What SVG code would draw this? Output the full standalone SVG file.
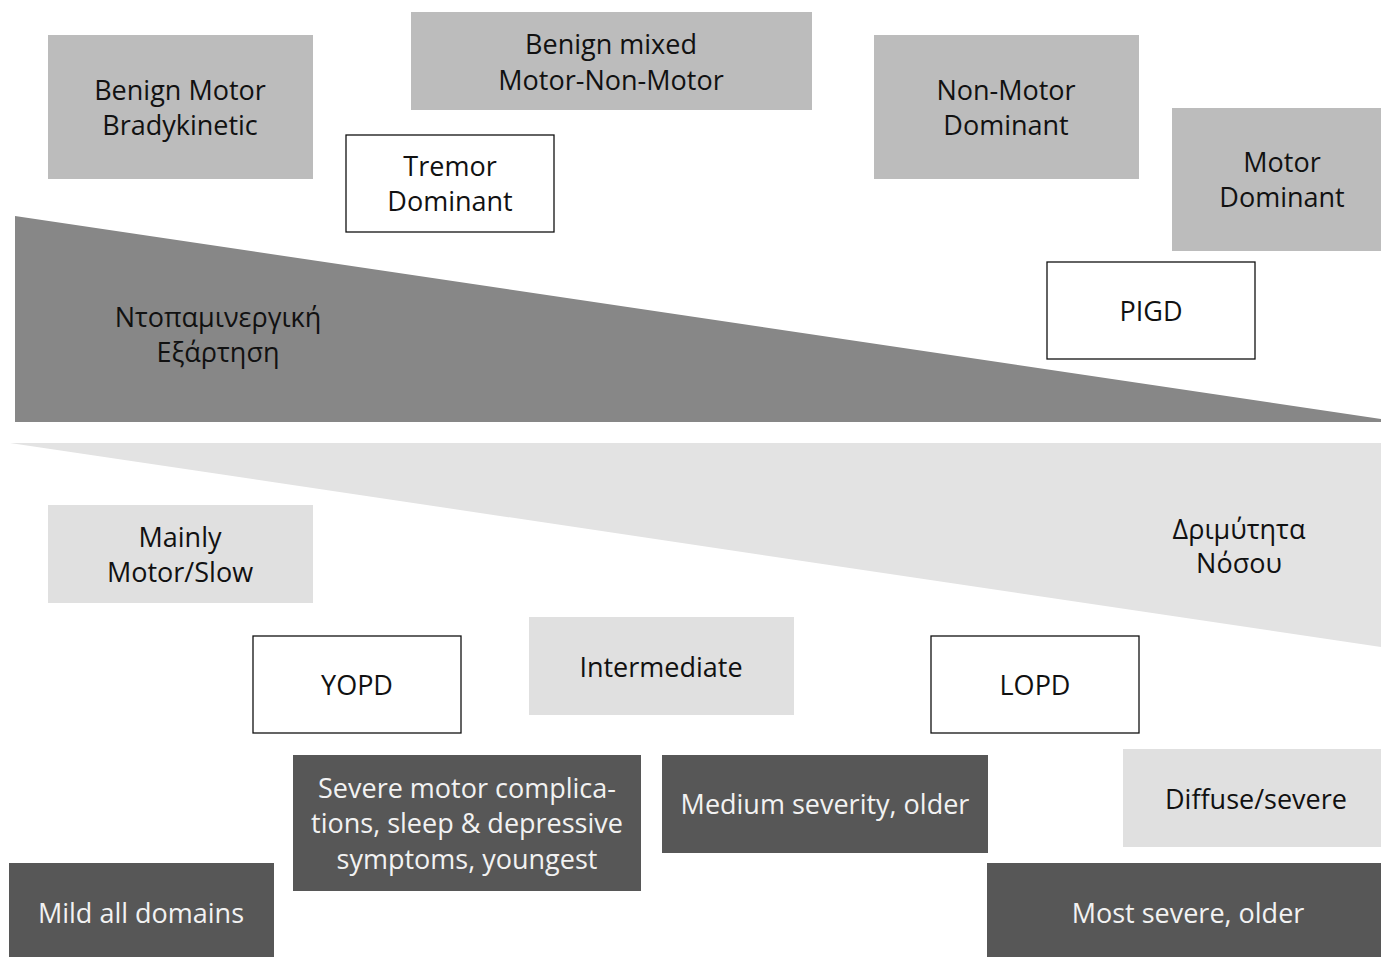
<svg xmlns="http://www.w3.org/2000/svg" width="1381" height="957" viewBox="0 0 1381 957">
<style>
text{font-family:"Open Sans","Noto Sans","DejaVu Sans",sans-serif;font-size:27px;text-anchor:middle;fill:#111}
.g{fill:#bcbcbc}
.l{fill:#e0e0e0}
.w{fill:#fff;stroke:#111;stroke-width:1.3}
.d{fill:#575757}
.dt{fill:#f2f2f2}
</style>
<rect width="1381" height="957" fill="#fff"/>
<g id="wedges">
<polygon points="15,216 1381,419 1381,422 15,422" fill="#878787"/>
<polygon points="10,443 1381,443 1381,647" fill="#e3e3e3"/>
</g>
<g id="label-dopa"><text x="218" y="327">Ντοπαμινεργική</text><text x="218" y="362">Εξάρτηση</text></g>
<g id="label-severity"><text x="1239" y="539">Δριμύτητα</text><text x="1239" y="573">Νόσου</text></g>
<g id="n1"><rect class="g" x="48" y="35" width="265" height="144"/><text x="180" y="100">Benign Motor</text><text x="180" y="135">Bradykinetic</text></g>
<g id="n2"><rect class="g" x="411" y="12" width="401" height="98"/><text x="611" y="54">Benign mixed</text><text x="611" y="90">Motor-Non-Motor</text></g>
<g id="n3"><rect class="w" x="346" y="135" width="208" height="97"/><text x="450" y="176">Tremor</text><text x="450" y="211">Dominant</text></g>
<g id="n4"><rect class="g" x="874" y="35" width="265" height="144"/><text x="1006" y="100">Non-Motor</text><text x="1006" y="135">Dominant</text></g>
<g id="n5"><rect class="g" x="1172" y="108" width="209" height="143"/><text x="1282" y="172">Motor</text><text x="1282" y="207">Dominant</text></g>
<g id="n6"><rect class="w" x="1047" y="262" width="208" height="97"/><text x="1151" y="321">PIGD</text></g>
<g id="n7"><rect class="l" x="48" y="505" width="265" height="98"/><text x="180" y="547">Mainly</text><text x="180" y="582">Motor/Slow</text></g>
<g id="n8"><rect class="w" x="253" y="636" width="208" height="97"/><text x="357" y="695">YOPD</text></g>
<g id="n9"><rect class="l" x="529" y="617" width="265" height="98"/><text x="661" y="677">Intermediate</text></g>
<g id="n10"><rect class="w" x="931" y="636" width="208" height="97"/><text x="1035" y="695">LOPD</text></g>
<g id="n11"><rect class="d" x="293" y="755" width="348" height="136"/><text class="dt" x="467" y="798">Severe motor complica-</text><text class="dt" x="467" y="833">tions, sleep &amp; depressive</text><text class="dt" x="467" y="869">symptoms, youngest</text></g>
<g id="n12"><rect class="d" x="662" y="755" width="326" height="98"/><text class="dt" x="825" y="814">Medium severity, older</text></g>
<g id="n13"><rect class="l" x="1123" y="749" width="258" height="98"/><text x="1256" y="809">Diffuse/severe</text></g>
<g id="n14"><rect class="d" x="9" y="863" width="265" height="94"/><text class="dt" x="141" y="923">Mild all domains</text></g>
<g id="n15"><rect class="d" x="987" y="863" width="394" height="94"/><text class="dt" x="1188" y="923">Most severe, older</text></g>
<g id="connectors"/>
</svg>
